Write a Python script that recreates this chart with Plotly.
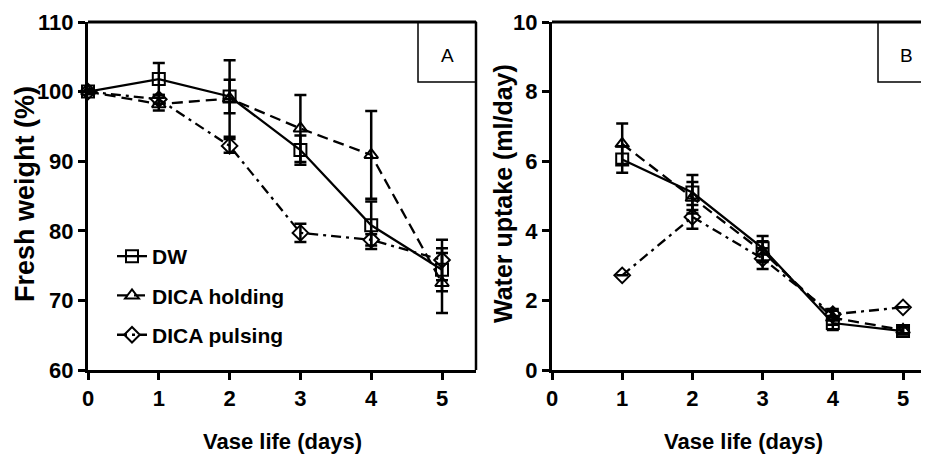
import plotly.graph_objects as go

days = [0, 1, 2, 3, 4, 5]
days_b = [1, 2, 3, 4, 5]

# Panel A: fresh weight (%)
fw_dw = [100.0, 101.8, 99.3, 91.6, 80.8, 74.4]
fw_dw_err = [0.3, 2.3, 2.4, 2.1, 3.4, 3.1]
fw_hold = [100.0, 98.2, 99.0, 94.7, 90.9, 72.5]
fw_hold_err = [0.3, 0.9, 5.5, 4.8, 6.3, 4.3]
fw_puls = [100.0, 98.9, 92.2, 79.7, 78.7, 75.8]
fw_puls_err = [0.3, 0.6, 1.0, 1.3, 0.8, 2.9]

# Panel B: water uptake (ml/day)
wu_dw = [6.05, 5.10, 3.50, 1.35, 1.12]
wu_dw_err = [0.38, 0.50, 0.35, 0.20, 0.10]
wu_hold = [6.50, 4.95, 3.40, 1.50, 1.15]
wu_hold_err = [0.58, 0.45, 0.30, 0.20, 0.12]
wu_puls = [2.72, 4.40, 3.20, 1.60, 1.80]
wu_puls_err = [0.0, 0.34, 0.30, 0.15, 0.0]

names = ["DW", "DICA holding", "DICA pulsing"]
symbols = ["square-open", "triangle-up-open", "diamond-open"]
dashes = ["solid", "11px,6px", "10px,5px,3px,5px"]

FONT = "Liberation Sans, Arial"
OFF = 8  # page body margin
W, H = 929 - OFF, 456 - OFF


def px(x):
    return (x - OFF) / W


def py(y):
    return 1 - (y - OFF) / H


fig = go.Figure()

series_a = [(fw_dw, fw_dw_err), (fw_hold, fw_hold_err), (fw_puls, fw_puls_err)]
series_b = [(wu_dw, wu_dw_err), (wu_hold, wu_hold_err), (wu_puls, wu_puls_err)]

for i, (y, e) in enumerate(series_a):
    fig.add_trace(go.Scatter(
        x=days, y=y, name=names[i], legendgroup=names[i],
        mode="lines+markers",
        line=dict(color="black", width=2.3, dash=dashes[i]),
        marker=dict(symbol=symbols[i], size=12, color="black",
                    line=dict(color="black", width=2)),
        error_y=dict(type="data", array=e, color="black", thickness=2.5, width=6),
        cliponaxis=False, xaxis="x", yaxis="y",
    ))

for i, (y, e) in enumerate(series_b):
    fig.add_trace(go.Scatter(
        x=days_b, y=y, name=names[i], legendgroup=names[i], showlegend=False,
        mode="lines+markers",
        line=dict(color="black", width=2.3, dash=dashes[i]),
        marker=dict(symbol=symbols[i], size=12, color="black",
                    line=dict(color="black", width=2)),
        error_y=dict(type="data", array=e, color="black", thickness=2.5, width=6),
        cliponaxis=False, xaxis="x2", yaxis="y2",
    ))

ydom = [py(370), py(22)]
axfont = dict(family=FONT, size=22, color="black", weight="bold")
common = dict(showline=True, linewidth=3, linecolor="black", ticks="outside",
              ticklen=7, tickwidth=3, tickcolor="black", showgrid=False,
              zeroline=False, tickfont=axfont, fixedrange=True, automargin=False)

fig.update_layout(
    width=W, height=H, margin=dict(l=0, r=0, t=0, b=0, pad=0, autoexpand=False),
    paper_bgcolor="white", plot_bgcolor="white",
    font=dict(family=FONT, color="black"),
    xaxis=dict(domain=[px(88), px(476)], range=[0, 5.48], tickvals=days,
               anchor="y", **common),
    yaxis=dict(domain=ydom, range=[60, 110], tickvals=[60, 70, 80, 90, 100, 110],
               anchor="x", **common),
    xaxis2=dict(domain=[px(552), 1.0], range=[0, 5.37], tickvals=[0, 1, 2, 3, 4, 5],
                anchor="y2", **common),
    yaxis2=dict(domain=ydom, range=[0, 10], tickvals=[0, 2, 4, 6, 8, 10],
                anchor="x2", **common),
    legend=dict(x=px(112), y=py(236), xanchor="left", yanchor="top",
                bgcolor="rgba(0,0,0,0)", tracegroupgap=9,
                font=dict(family=FONT, size=21, color="black", weight="bold")),
    showlegend=True,
)

shapes = [
    dict(type="line", xref="paper", yref="paper", x0=px(88), x1=px(476),
         y0=ydom[1], y1=ydom[1], line=dict(color="black", width=3)),
    dict(type="line", xref="paper", yref="paper", x0=px(476), x1=px(476),
         y0=ydom[0], y1=ydom[1], line=dict(color="black", width=2.5)),
    dict(type="line", xref="paper", yref="paper", x0=px(552), x1=1.0,
         y0=ydom[1], y1=ydom[1], line=dict(color="black", width=3)),
    dict(type="rect", xref="paper", yref="paper", x0=px(418), x1=px(476),
         y0=py(82), y1=py(22), line=dict(color="black", width=1.5)),
    dict(type="rect", xref="paper", yref="paper", x0=px(878), x1=px(935),
         y0=py(82), y1=py(22), line=dict(color="black", width=1.5)),
]
fig.update_layout(shapes=shapes)

xt_font = dict(family=FONT, size=22, color="black", weight="bold")
common_ann = dict(xref="paper", yref="paper", showarrow=False,
                  xanchor="center", yanchor="middle")
ann = [
    dict(text="A", x=px(447), y=py(55),
         font=dict(family=FONT, size=19, color="black"), **common_ann),
    dict(text="B", x=px(906), y=py(55),
         font=dict(family=FONT, size=19, color="black"), **common_ann),
    dict(text="Fresh weight (%)", x=px(25), y=py(194), textangle=-90,
         font=dict(family=FONT, size=27, color="black", weight="bold"), **common_ann),
    dict(text="Water uptake (ml/day)", x=px(503), y=py(194), textangle=-90,
         font=dict(family=FONT, size=25, color="black", weight="bold"), **common_ann),
    dict(text="Vase life (days)", x=px(282), y=py(441), font=xt_font, **common_ann),
    dict(text="Vase life (days)", x=px(743), y=py(441), font=xt_font, **common_ann),
]
fig.update_layout(annotations=ann)

fig.write_html("out.html")
